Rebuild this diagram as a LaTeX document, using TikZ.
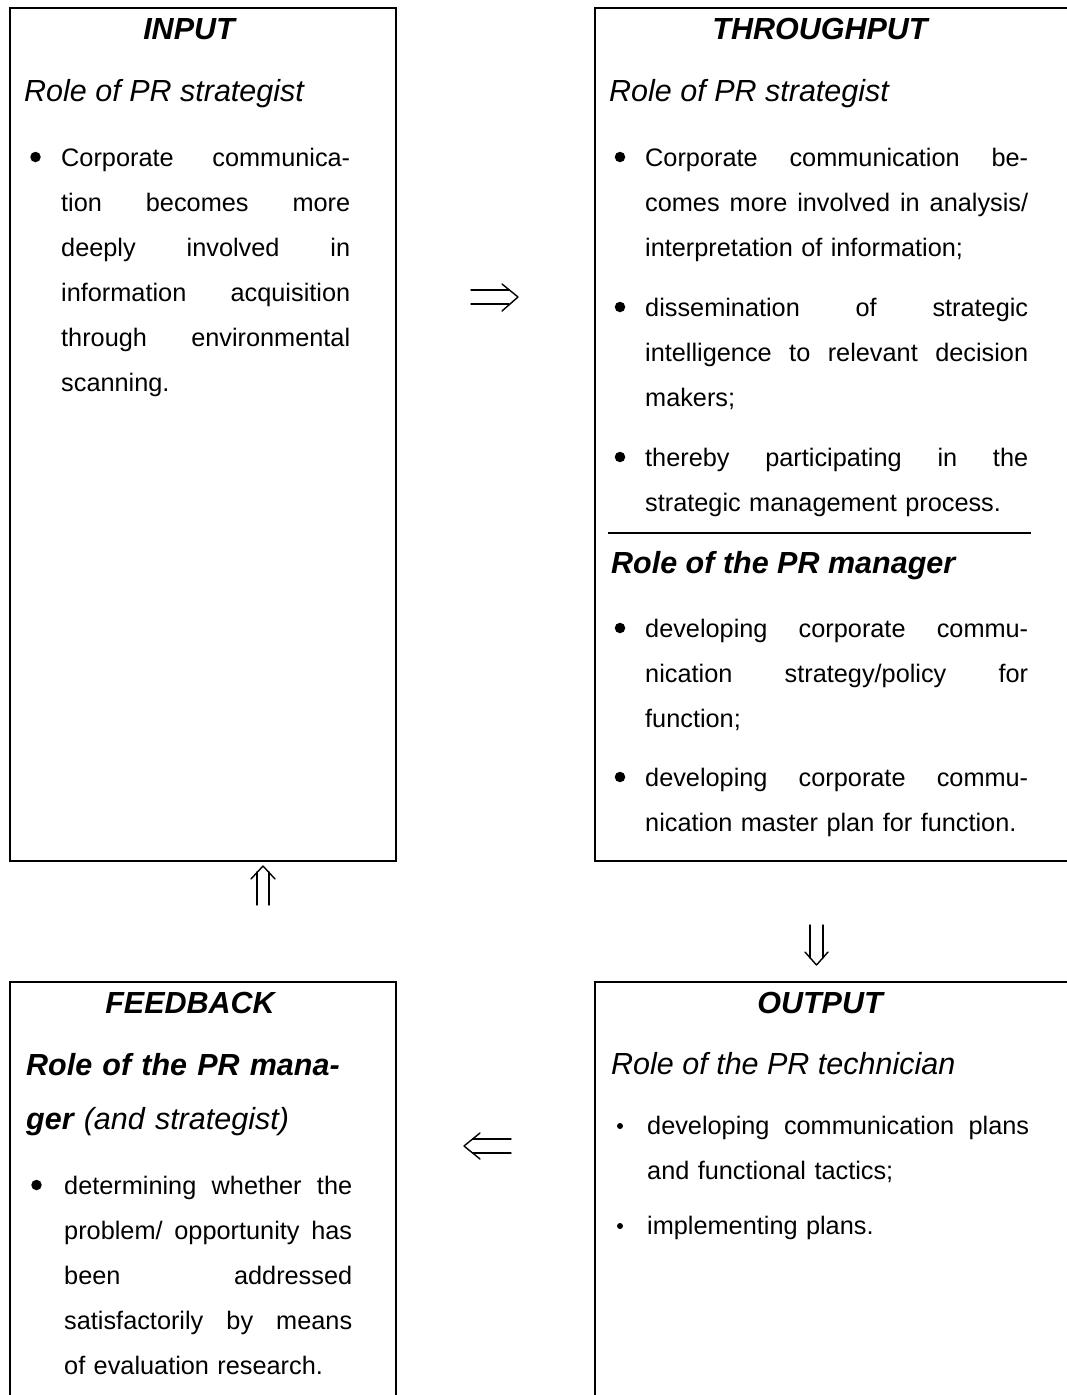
\documentclass[tikz,border=0pt]{standalone}
\usepackage{fontspec}
\setmainfont{Liberation Sans}
\newcommand\jl[1]{\makebox[\linewidth][s]{\spaceskip=0.278em plus 20em\relax #1}}
\begin{document}
\begin{tikzpicture}[x=1pt,y=-1pt,
  box/.style={draw, line width=1.5pt, anchor=north west, inner sep=0, outer sep=0},
  head/.style={anchor=base, inner sep=0, font=\fontsize{30.5}{36}\selectfont\bfseries\itshape},
  role/.style={anchor=base west, inner sep=0, align=left, font=\fontsize{30.5}{54}\selectfont\itshape},
  para/.style={anchor=base west, inner sep=0, align=left, font=\fontsize{25.3}{45}\selectfont},
  bigbul/.style={circle, fill, inner sep=0, minimum size=10.5pt},
  smallbul/.style={circle, fill, inner sep=0, minimum size=6pt},
  glyph/.style={line width=1.4pt, line cap=round, line join=round},
  divider/.style={line width=1.2pt}]
\useasboundingbox (0,0) rectangle (1067,1395);
\clip (0,0) rectangle (1067,1395);

% boxes
\node[box, minimum width=386pt, minimum height=853pt] (inbox) at (10,8) {};
\node[box, minimum width=490pt, minimum height=853pt] (thbox) at (595,8) {};
\node[box, minimum width=386pt, minimum height=440pt] (fbbox) at (10,982) {};
\node[box, minimum width=490pt, minimum height=440pt] (oubox) at (595,982) {};

% INPUT
\node[head] (inh) at (189,39) {INPUT};
\node[role] (inr) at (24,101) {Role of PR strategist};
\node[bigbul] (inb1) at (35.5,157) {};
\node[para, text width=289pt] (inp1) at (61,166) {\jl{Corporate communica-}\\\jl{tion becomes more}\\\jl{deeply involved in}\\\jl{information acquisition}\\\jl{through environmental}\\scanning.};

% THROUGHPUT
\node[head] (thh) at (820,39) {THROUGHPUT};
\node[role] (thr) at (609,101) {Role of PR strategist};
\node[bigbul] (thb1) at (620,157) {};
\node[para, text width=383pt] (thp1) at (645,166) {\jl{Corporate communication be-}\\\jl{comes more involved in analysis/}\\interpretation of information;};
\node[bigbul] (thb2) at (620,307) {};
\node[para, text width=383pt] (thp2) at (645,316) {\jl{dissemination of strategic}\\\jl{intelligence to relevant decision}\\makers;};
\node[bigbul] (thb3) at (620,457) {};
\node[para, text width=383pt] (thp3) at (645,466) {\jl{thereby participating in the}\\strategic management process.};
\coordinate (dvl) at (608,533);
\coordinate (dvr) at (1031,533);
\draw[divider] (dvl) -- (dvr);
\node[role] (thm) at (611,573) {\bfseries Role of the PR manager};
\node[bigbul] (thb4) at (620,628) {};
\node[para, text width=383pt] (thp4) at (645,637) {\jl{developing corporate commu-}\\\jl{nication strategy/policy for}\\function;};
\node[bigbul] (thb5) at (620,777) {};
\node[para, text width=383pt] (thp5) at (645,786) {\jl{developing corporate commu-}\\nication master plan for function.};

% FEEDBACK
\node[head] (fbh) at (190,1013) {FEEDBACK};
\node[role, text width=360pt] (fbr) at (26,1075) {\bfseries Role of the PR mana-\\ger \mdseries (and strategist)};
\node[bigbul] (fbb1) at (36.5,1185) {};
\node[para, text width=288pt] (fbp1) at (64,1194) {\jl{determining whether the}\\\jl{problem/ opportunity has}\\\jl{been addressed}\\\jl{satisfactorily by means}\\of evaluation research.};

% OUTPUT
\node[head] (ouh) at (820,1013) {OUTPUT};
\node[role] (our) at (611,1074) {Role of the PR technician};
\node[smallbul] (oub1) at (620,1126) {};
\node[para, text width=382pt] (oup1) at (647,1134) {\jl{developing communication plans}\\and functional tactics;};
\node[smallbul] (oub2) at (620,1226) {};
\node[para, text width=382pt] (oup2) at (647,1234) {implementing plans.};

% arrow glyphs
% right (INPUT => THROUGHPUT)
\coordinate (r1a) at (471,290); \coordinate (r1b) at (509,290);
\coordinate (r2a) at (471,304); \coordinate (r2b) at (509,304);
\coordinate (rt) at (502,284); \coordinate (rv) at (518,297); \coordinate (rb) at (502,311);
\draw[glyph] (r1a) -- (r1b);
\draw[glyph] (r2a) -- (r2b);
\draw[glyph] (rt) -- (rv) -- (rb);
% down (THROUGHPUT => OUTPUT)
\coordinate (d1a) at (810,925); \coordinate (d1b) at (810,958);
\coordinate (d2a) at (823,925); \coordinate (d2b) at (823,958);
\coordinate (dl) at (805,952); \coordinate (dv) at (816.5,965); \coordinate (dr) at (828,952);
\draw[glyph] (d1a) -- (d1b);
\draw[glyph] (d2a) -- (d2b);
\draw[glyph] (dl) -- (dv) -- (dr);
% left (OUTPUT => FEEDBACK)
\coordinate (l1a) at (473,1139); \coordinate (l1b) at (511,1139);
\coordinate (l2a) at (473,1153); \coordinate (l2b) at (511,1153);
\coordinate (lt) at (480,1133); \coordinate (lv) at (464,1146); \coordinate (lb) at (480,1159);
\draw[glyph] (l1a) -- (l1b);
\draw[glyph] (l2a) -- (l2b);
\draw[glyph] (lt) -- (lv) -- (lb);
% up (FEEDBACK => INPUT)
\coordinate (u1a) at (257,872); \coordinate (u1b) at (257,905);
\coordinate (u2a) at (269,872); \coordinate (u2b) at (269,905);
\coordinate (ul) at (251,879); \coordinate (uv) at (263,866); \coordinate (ur) at (275,879);
\draw[glyph] (u1a) -- (u1b);
\draw[glyph] (u2a) -- (u2b);
\draw[glyph] (ul) -- (uv) -- (ur);
\end{tikzpicture}
\end{document}
